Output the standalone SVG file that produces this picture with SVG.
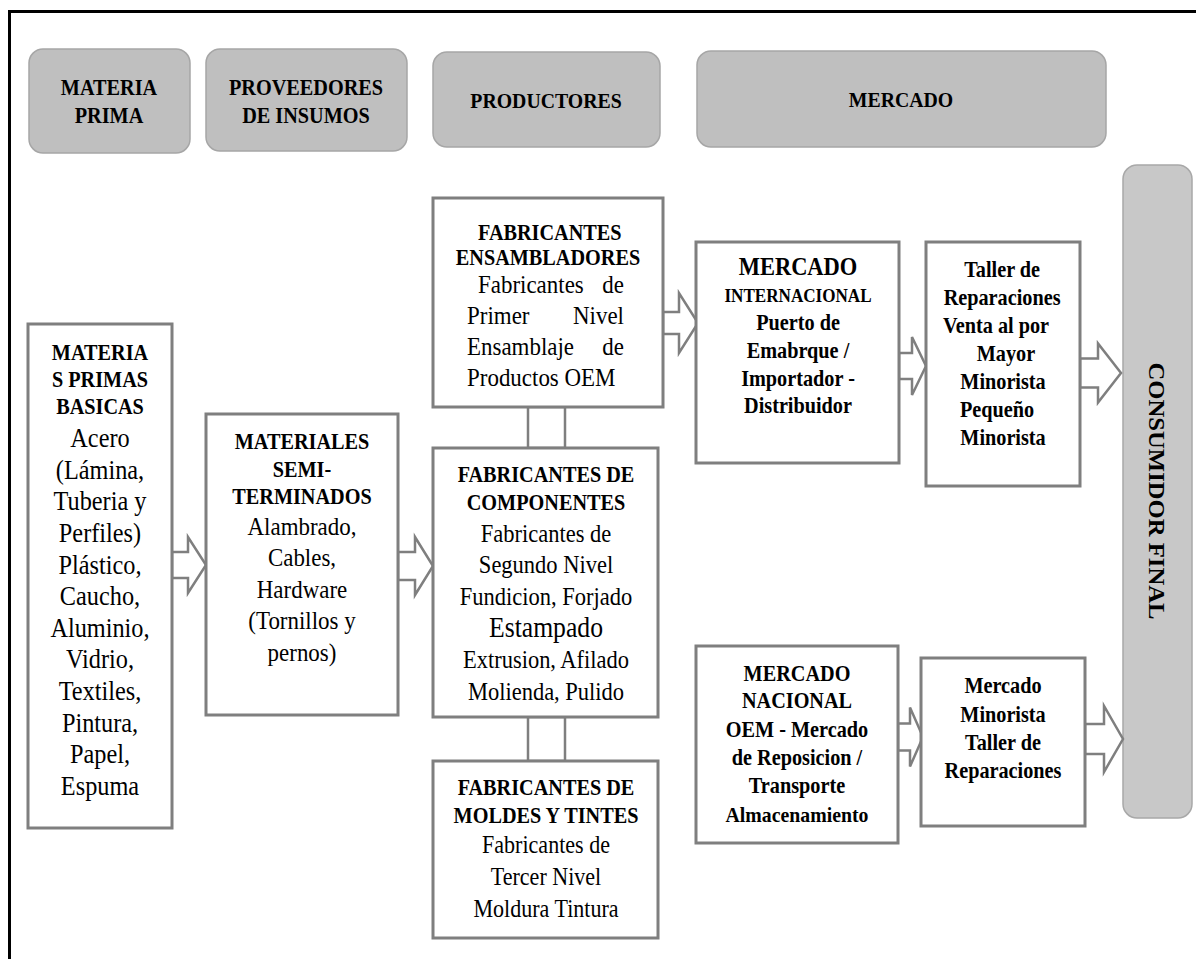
<svg xmlns="http://www.w3.org/2000/svg" width="1196" height="959" viewBox="0 0 1196 959">
<style>
.hdr{fill:#bfbfbf;stroke:#a6a6a6;stroke-width:1.5}
.cons{fill:#c8c8c8;stroke:#a8a8a8;stroke-width:1.5}
.box{fill:#fff;stroke:#7f7f7f;stroke-width:3}
.arr{fill:#fff;stroke:#7f7f7f;stroke-width:2.5;stroke-linejoin:miter}
text{font-family:"Liberation Serif","Times New Roman",serif;fill:#000}
.b{font-weight:bold;font-size:22.5px}
.c{text-anchor:middle}
</style>
<rect width="1196" height="959" fill="#fff"/>
<path d="M9.5,959 V11.5 H1196" fill="none" stroke="#000" stroke-width="3"/>

<g id="hdr-materia-prima">
<rect class="hdr" x="29" y="49" width="161" height="104" rx="14"/>
<g transform="translate(109 0) scale(0.9 1)">
<text class="b c" x="0" y="95">MATERIA</text>
<text class="b c" x="0" y="123">PRIMA</text>
</g>
</g>
<g id="hdr-proveedores">
<rect class="hdr" x="206" y="49" width="201" height="102" rx="14"/>
<g transform="translate(306 0) scale(0.9 1)">
<text class="b c" x="0" y="95">PROVEEDORES</text>
<text class="b c" x="0" y="123">DE INSUMOS</text>
</g>
</g>
<g id="hdr-productores">
<rect class="hdr" x="433" y="52" width="227" height="95" rx="14"/>
<g transform="translate(546 0) scale(0.9 1)">
<text class="b c" x="0" y="108" style="font-size:22px">PRODUCTORES</text>
</g>
</g>
<g id="hdr-mercado">
<rect class="hdr" x="697" y="51" width="409" height="96" rx="14"/>
<g transform="translate(901 0) scale(0.9 1)">
<text class="b c" x="0" y="107" style="font-size:22px">MERCADO</text>
</g>
</g>
<g id="consumidor-final">
<rect class="cons" x="1123" y="165" width="69" height="653" rx="14"/>
<text class="b c" transform="translate(1157,491) rotate(90)" x="0" y="8" style="font-size:23px" textLength="257" lengthAdjust="spacingAndGlyphs">CONSUMIDOR FINAL</text>
</g>

<g id="connectors">
<rect class="arr" x="528" y="407" width="37" height="41"/>
<rect class="arr" x="528" y="717" width="37" height="44"/>
<polygon class="arr" points="172,552 188,552 188,537 206,565 188,593 188,578 172,578"/>
<polygon class="arr" points="398,552 415,552 415,537 433,566 415,595 415,580 398,580"/>
<polygon class="arr" points="663,312 679,312 679,293 698,323 679,353 679,334 663,334"/>
<polygon class="arr" points="899,353 912,353 912,337 926,366 912,395 912,379 899,379"/>
<polygon class="arr" points="1080,358.5 1098,358.5 1098,343.5 1121,373 1098,402.5 1098,387.5 1080,387.5"/>
<polygon class="arr" points="898,723.5 910,723.5 910,707.5 923,737 910,766.5 910,750.5 898,750.5"/>
<polygon class="arr" points="1085,724 1104,724 1104,706 1123,739 1104,772 1104,754 1085,754"/>
</g>

<g id="materias-primas-basicas">
<rect class="box" x="28" y="324" width="144" height="504"/>
<g transform="translate(100 0) scale(0.9 1)">
<text class="b c" x="0" y="360">MATERIA</text>
<text class="b c" x="0" y="387">S PRIMAS</text>
<text class="b c" x="0" y="414">BASICAS</text>
<g class="c" style="font-size:27px">
<text x="0" y="447">Acero</text>
<text x="0" y="479">(Lámina,</text>
<text x="0" y="510">Tuberia y</text>
<text x="0" y="542">Perfiles)</text>
<text x="0" y="574">Plástico,</text>
<text x="0" y="605">Caucho,</text>
<text x="0" y="637">Aluminio,</text>
<text x="0" y="668">Vidrio,</text>
<text x="0" y="700">Textiles,</text>
<text x="0" y="732">Pintura,</text>
<text x="0" y="763">Papel,</text>
<text x="0" y="795">Espuma</text>
</g>
</g>
</g>

<g id="materiales-semiterminados">
<rect class="box" x="206" y="414" width="192" height="301"/>
<g transform="translate(302 0) scale(0.9 1)">
<text class="b c" x="0" y="449">MATERIALES</text>
<text class="b c" x="0" y="477">SEMI-</text>
<text class="b c" x="0" y="504">TERMINADOS</text>
<g class="c" style="font-size:25.5px">
<text x="0" y="535">Alambrado,</text>
<text x="0" y="566">Cables,</text>
<text x="0" y="598">Hardware</text>
<text x="0" y="629">(Tornillos y</text>
<text x="0" y="661">pernos)</text>
</g>
</g>
</g>

<g id="fabricantes-ensambladores">
<rect class="box" x="433" y="198" width="230" height="209"/>
<g transform="translate(548 0) scale(0.9 1)">
<text class="b c" x="2" y="240">FABRICANTES</text>
<text class="b c" x="0" y="265">ENSAMBLADORES</text>
<g style="font-size:25.5px">
<text x="-77.8" y="293">Fabricantes</text>
<text x="84.4" y="293" text-anchor="end">de</text>
<text x="-90" y="324">Primer</text>
<text x="84.4" y="324" text-anchor="end">Nivel</text>
<text x="-90" y="355">Ensamblaje</text>
<text x="84.4" y="355" text-anchor="end">de</text>
<text x="-90" y="386">Productos OEM</text>
</g>
</g>
</g>

<g id="fabricantes-componentes">
<rect class="box" x="433" y="448" width="225" height="269"/>
<g transform="translate(546 0) scale(0.9 1)">
<text class="b c" x="0" y="482">FABRICANTES DE</text>
<text class="b c" x="0" y="510">COMPONENTES</text>
<g class="c" style="font-size:25px">
<text x="0" y="542">Fabricantes de</text>
<text x="0" y="573">Segundo Nivel</text>
<text x="0" y="605">Fundicion, Forjado</text>
<text x="0" y="637" style="font-size:28.5px">Estampado</text>
<text x="0" y="668">Extrusion, Afilado</text>
<text x="0" y="700">Molienda, Pulido</text>
</g>
</g>
</g>

<g id="fabricantes-moldes">
<rect class="box" x="433" y="761" width="225" height="177"/>
<g transform="translate(546 0) scale(0.9 1)">
<text class="b c" x="0" y="795">FABRICANTES DE</text>
<text class="b c" x="0" y="823">MOLDES Y TINTES</text>
<g class="c" style="font-size:24.5px">
<text x="0" y="853">Fabricantes de</text>
<text x="0" y="885">Tercer Nivel</text>
<text x="0" y="917">Moldura Tintura</text>
</g>
</g>
</g>

<g id="mercado-internacional">
<rect class="box" x="696" y="242" width="203" height="221"/>
<g transform="translate(798 0) scale(0.9 1)">
<text class="b c" x="0" y="275" style="font-size:25px">MERCADO</text>
<text class="b c" x="0" y="302" style="font-size:19px">INTERNACIONAL</text>
<text class="b c" x="0" y="330">Puerto de</text>
<text class="b c" x="0" y="358">Emabrque /</text>
<text class="b c" x="0" y="386">Importador -</text>
<text class="b c" x="0" y="413">Distribuidor</text>
</g>
</g>

<g id="taller-reparaciones">
<rect class="box" x="926" y="242" width="154" height="244"/>
<g transform="translate(1003 0) scale(0.9 1)">
<text class="b c" x="-1" y="277">Taller de</text>
<text class="b c" x="-1" y="305">Reparaciones</text>
<text class="b" x="-66.7" y="333">Venta al por</text>
<text class="b c" x="3.3" y="361">Mayor</text>
<text class="b c" x="0" y="389">Minorista</text>
<text class="b" x="-47.8" y="417">Pequeño</text>
<text class="b c" x="0" y="445">Minorista</text>
</g>
</g>

<g id="mercado-nacional">
<rect class="box" x="696" y="646" width="202" height="197"/>
<g transform="translate(797 0) scale(0.9 1)" style="font-size:22px">
<text class="b c" x="0" y="681" style="font-size:22.5px">MERCADO</text>
<text class="b c" x="0" y="708" style="font-size:22.5px">NACIONAL</text>
<text class="b c" x="0" y="737" style="font-size:22.5px">OEM - Mercado</text>
<text class="b c" x="0" y="765" style="font-size:22.5px">de Reposicion /</text>
<text class="b c" x="0" y="793" style="font-size:22.5px">Transporte</text>
<text class="b c" x="0" y="822" style="font-size:22px">Almacenamiento</text>
</g>
</g>

<g id="mercado-minorista">
<rect class="box" x="921" y="658" width="164" height="168"/>
<g transform="translate(1003 0) scale(0.9 1)">
<text class="b c" x="0" y="693">Mercado</text>
<text class="b c" x="0" y="722">Minorista</text>
<text class="b c" x="0" y="750">Taller de</text>
<text class="b c" x="0" y="778">Reparaciones</text>
</g>
</g>
</svg>
